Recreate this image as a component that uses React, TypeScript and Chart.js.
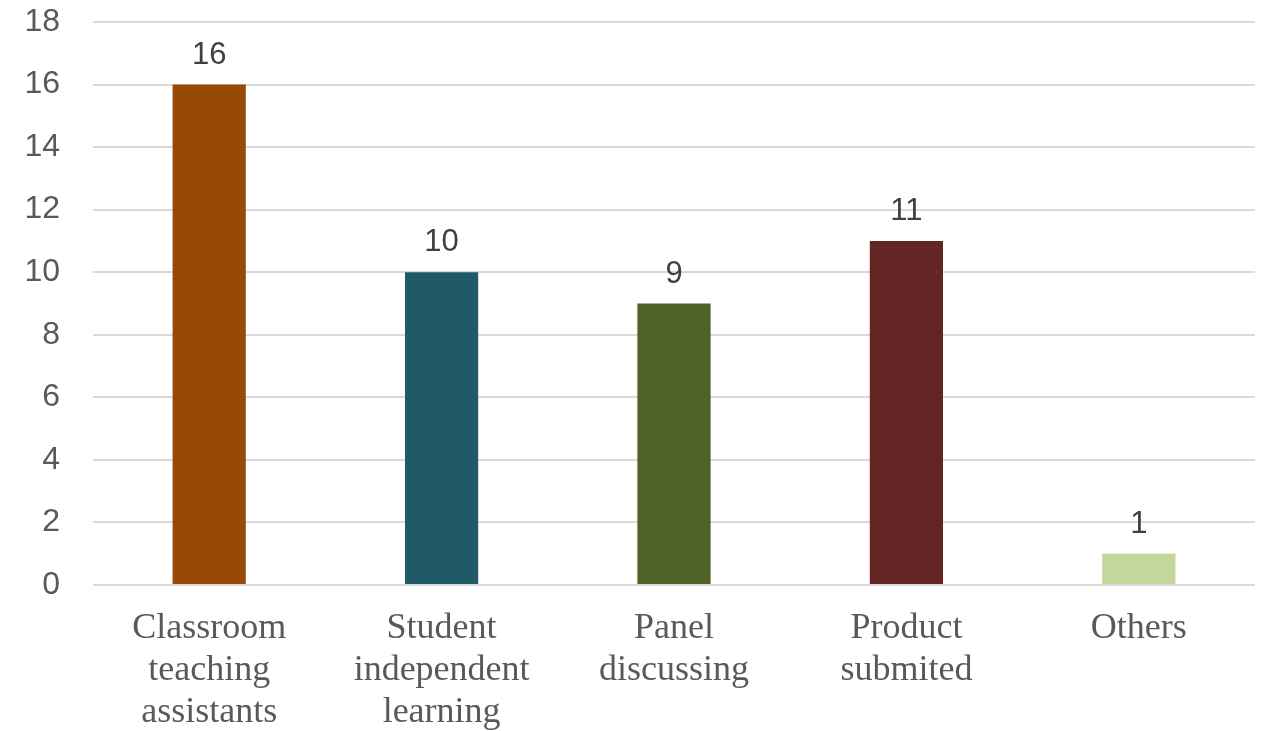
import React, { useEffect, useRef } from "react";
import { Chart, registerables } from "chart.js";

Chart.register(...registerables);

const categories: string[][] = [
  ["Classroom", "teaching", "assistants"],
  ["Student", "independent", "learning"],
  ["Panel", "discussing"],
  ["Product", "submited"],
  ["Others"],
];
const counts: number[] = [16, 10, 9, 11, 1];
const barColors: string[] = ["#984807", "#215968", "#4F6228", "#632523", "#C3D69B"];
const yMax = 18;
const yStep = 2;

// Draws each bar's count just above it
const valueLabels = {
  id: "valueLabels",
  afterDatasetsDraw(chart: any) {
    const ctx = chart.ctx;
    const meta = chart.getDatasetMeta(0);
    ctx.save();
    ctx.font = '31px "Liberation Sans", sans-serif';
    ctx.fillStyle = "#404040";
    ctx.textAlign = "center";
    ctx.textBaseline = "bottom";
    meta.data.forEach((bar: any, i: number) => {
      ctx.fillText(String(counts[i]), bar.x, bar.y - 14);
    });
    ctx.restore();
  },
};

export default function App() {
  const canvasRef = useRef<HTMLCanvasElement | null>(null);

  useEffect(() => {
    if (!canvasRef.current) return;
    const chart = new Chart(canvasRef.current, {
      type: "bar",
      data: {
        labels: categories,
        datasets: [
          {
            data: counts,
            backgroundColor: barColors,
            borderWidth: 0,
            barPercentage: 0.315,
            categoryPercentage: 1,
          },
        ],
      },
      options: {
        animation: false,
        responsive: false,
        maintainAspectRatio: false,
        layout: { padding: { top: 22, right: 8, left: 0, bottom: 0 } },
        plugins: {
          legend: { display: false },
          tooltip: { enabled: false },
        },
        scales: {
          x: {
            grid: { display: false },
            border: { display: false },
            ticks: {
              color: "#595959",
              padding: 15,
              maxRotation: 0,
              autoSkip: false,
              font: { family: '"Liberation Serif", serif', size: 36, lineHeight: 1.16 },
            },
            afterFit: (scale: any) => {
              scale.height = 146;
            },
          },
          y: {
            min: 0,
            max: yMax,
            ticks: {
              stepSize: yStep,
              color: "#595959",
              padding: 33,
              font: { family: '"Liberation Sans", sans-serif', size: 32 },
            },
            grid: { color: "#d9d9d9", lineWidth: 2, drawTicks: false },
            border: { display: false },
            afterFit: (scale: any) => {
              scale.width = 93;
              scale.paddingTop = 0;
              scale.paddingBottom = 0;
            },
          },
        },
      },
      plugins: [valueLabels],
    });
    return () => chart.destroy();
  }, []);

  return (
    <div style={{ position: "absolute", left: 0, top: 0, width: 1263, height: 731, background: "#fff" }}>
      <canvas ref={canvasRef} width={1263} height={731} />
    </div>
  );
}
